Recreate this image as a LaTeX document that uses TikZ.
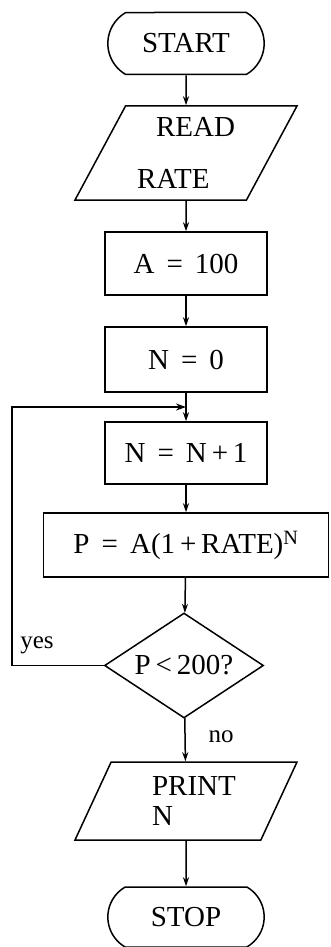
\documentclass[tikz,border=0pt]{standalone}
\usepackage{fontspec}
\setmainfont{Liberation Serif}
\usetikzlibrary{shapes.geometric,shapes.misc,arrows.meta}

\tikzset{
  box/.style={draw, line width=1.5pt, font=\fontsize{29}{30}\selectfont},
  terminal/.style={box, rounded rectangle, rounded rectangle arc length=120,
    minimum width=163pt, minimum height=62pt},
  process/.style={box, rectangle, minimum width=162pt, minimum height=63pt},
  inout/.style={box, trapezium, trapezium left angle=57, trapezium right angle=123,
    trapezium stretches body, minimum width=222pt, align=left},
  decision/.style={box, diamond, aspect=1.5, inner sep=0pt,
    minimum width=159pt, minimum height=105pt},
  flow/.style={line width=1.5pt, -{Stealth[length=9pt,width=6pt]}},
  loopback/.style={line width=2.6pt, -{Stealth[length=10pt,width=7pt]}},
  answer/.style={font=\fontsize{25}{28}\selectfont, inner sep=0pt}
}

\begin{document}
\begin{tikzpicture}[x=1pt, y=-1pt]
\useasboundingbox (0,0) rectangle (330,947);

\node[terminal] (start) at (186,43.5) {START};
\node[inout, minimum height=94pt] (read) at (186,153) {\hspace*{19pt}READ\\[22pt]RATE};
\node[process] (amount) at (186,263.5) {A \,=\, 100};
\node[process, minimum height=65pt] (zero) at (186,359.5) {N \,=\, 0};
\node[process, minimum height=62pt] (inc) at (186,453) {N \,=\, N\,+\,1};
\node[process, minimum width=285pt, minimum height=64pt] (calc) at (186,545)
  {P \,=\, A(1\,+\,RATE)\textsuperscript{N}};
\node[decision] (test) at (184,665.5) {P\,<\,200?};
\node[inout, minimum height=78pt] (print) at (186,801)
  {\hspace*{16pt}PRINT\\\hspace*{16pt}N};
\node[terminal, minimum height=60pt] (stop) at (186,917) {STOP};

% labels of the branches
\node[answer] (yes) at (37,645) {yes};
\node[answer] (no) at (221,737) {no};

\coordinate (back) at (12,665.5);
\coordinate (join) at (186,407);

\draw[flow] (start) -- (read);
\draw[flow] (read) -- (amount);
\draw[flow] (amount) -- (zero);
\draw[flow] (zero) -- (inc);
\draw[flow] (inc) -- (calc);
\draw[flow] (calc) -- (test);
\draw[flow] (test) -- (print);
\draw[flow] (print) -- (stop);

% the yes branch goes back up
\draw[line width=1.5pt] (test.west) -- (back);
\draw[loopback] (back) |- (join);
\end{tikzpicture}
\end{document}
